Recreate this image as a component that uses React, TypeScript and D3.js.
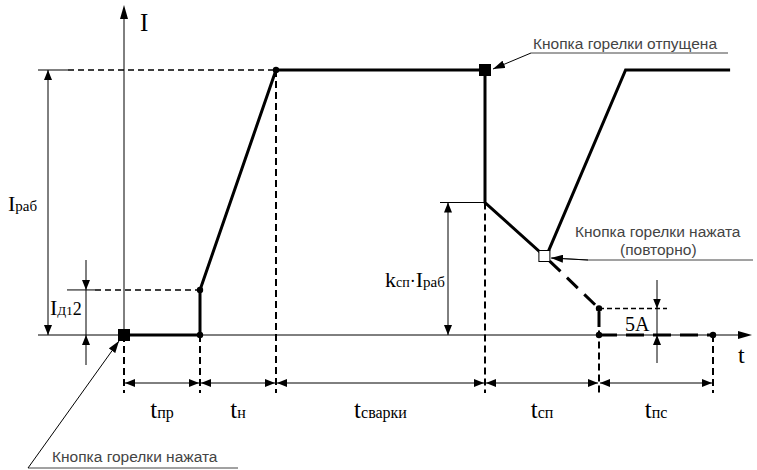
import React from "react";
import * as d3 from "d3";

// time marks (arbitrary units) where the phases change
const phaseBounds = [0, 2, 4, 9.5, 12.5, 15.5];
const phaseSubs = ["пр", "н", "сварки", "сп", "пс"];

// current levels (Iраб = 100)
const iWork = 100;
const iD12 = 17;
const kSpLevel = 50;
const iFive = 10;

// main current curve
const mainT = [0, 2, 2, 4, 9.5, 9.5, 11.05];
const mainI = [0, 0, 17, 100, 100, 50, 30];
// restart after the second press
const restartT = [11.15, 13.2, 15.95];
const restartI = [31, 100, 100];
// continuation if not pressed again
const fallT = [11.05, 12.5, 12.5];
const fallI = [30, 10, 0];
const tailT = [12.5, 15.5];
const tailI = [0, 0];

const W = 757;
const H = 470;

const serif = "'Liberation Serif', 'Times New Roman', serif";
const sans = "'Liberation Sans', Arial, sans-serif";
const gray = "#444";

export default function App() {
  const x = d3.scaleLinear().domain([0, 15.5]).range([124, 713]);
  const y = d3.scaleLinear().domain([0, 100]).range([335, 70]);
  const line = d3.line<[number, number]>().x((d) => x(d[0])).y((d) => y(d[1]));
  const pts = (ts: number[], is: number[]) => ts.map((t, k) => [t, is[k]] as [number, number]);

  const x0 = x(0);
  const y0 = y(0);
  const dimY = 383;

  const dots: [number, number][] = [
    [2, 0], [2, iD12], [4, iWork], [12.5, iFive], [12.5, 0], [15.5, 0],
  ];

  // vertical dashed guides: [t, top level]
  const guides: [number, number][] = [
    [0, 0], [2, 0], [4, iWork], [9.5, kSpLevel], [12.5, iFive], [15.5, 0],
  ];

  return (
    <svg width={W} height={H} style={{ position: "absolute", left: 0, top: 0, background: "#fff" }}>
      <defs>
        <marker id="ah" viewBox="0 0 10 8" refX="10" refY="4" markerWidth="10" markerHeight="8"
          markerUnits="userSpaceOnUse" orient="auto-start-reverse">
          <path d="M0,0 L10,4 L0,8 z" fill="#000" />
        </marker>
        <marker id="ahg" viewBox="0 0 12 8" refX="12" refY="4" markerWidth="12" markerHeight="8"
          markerUnits="userSpaceOnUse" orient="auto">
          <path d="M0,0 L12,4 L0,8 z" fill="#000" />
        </marker>
      </defs>

      {/* axes */}
      <line x1={38} y1={y0} x2={744} y2={y0} stroke="#000" strokeWidth={1} />
      <path d={`M752,${y0} L738,${y0 - 4} L738,${y0 + 4} z`} fill="#000" />
      <line x1={x0} y1={14} x2={x0} y2={y0} stroke="#000" strokeWidth={1} />
      <path d={`M${x0},5 L${x0 - 4},19 L${x0 + 4},19 z`} fill="#000" />
      <text x={140} y={31} fontFamily={serif} fontSize={25}>I</text>
      <text x={738} y={363} fontFamily={serif} fontSize={24}>t</text>

      {/* Iраб reference */}
      <line x1={38} y1={y(iWork)} x2={68} y2={y(iWork)} stroke="#000" strokeWidth={1} />
      <line x1={68} y1={y(iWork)} x2={x(4)} y2={y(iWork)} stroke="#000" strokeWidth={1.6} strokeDasharray="6,4" />
      <line x1={48} y1={y(iWork)} x2={48} y2={y0} stroke="#000" strokeWidth={1}
        markerStart="url(#ah)" markerEnd="url(#ah)" />
      <text x={8} y={211} fontFamily={serif}>
        <tspan fontSize={22}>I</tspan><tspan fontSize={15}>раб</tspan>
      </text>

      {/* Iд12 reference */}
      <line x1={67} y1={y(iD12)} x2={95} y2={y(iD12)} stroke="#000" strokeWidth={1} />
      <line x1={95} y1={y(iD12)} x2={x(2)} y2={y(iD12)} stroke="#000" strokeWidth={1.6} strokeDasharray="6,4" />
      <line x1={86} y1={260} x2={86} y2={y(iD12)} stroke="#000" strokeWidth={1} markerEnd="url(#ah)" />
      <line x1={86} y1={365} x2={86} y2={y0} stroke="#000" strokeWidth={1} markerEnd="url(#ah)" />
      <line x1={86} y1={y(iD12)} x2={86} y2={y0} stroke="#000" strokeWidth={1} />
      <text x={50} y={315} fontFamily={serif}>
        <tspan fontSize={22}>I</tspan><tspan fontSize={13}>Д1</tspan><tspan fontSize={18}>2</tspan>
      </text>

      {/* kсп·Iраб reference */}
      <line x1={440} y1={y(kSpLevel)} x2={x(9.5)} y2={y(kSpLevel)} stroke="#000" strokeWidth={1} />
      <line x1={448} y1={y(kSpLevel)} x2={448} y2={y0} stroke="#000" strokeWidth={1}
        markerStart="url(#ah)" markerEnd="url(#ah)" />
      <text x={385} y={287} fontFamily={serif}>
        <tspan fontSize={22}>k</tspan><tspan fontSize={14}>сп</tspan><tspan fontSize={18}>·</tspan>
        <tspan fontSize={22}>I</tspan><tspan fontSize={15}>раб</tspan>
      </text>

      {/* 5A reference */}
      <line x1={x(12.5)} y1={y(iFive)} x2={667} y2={y(iFive)} stroke="#000" strokeWidth={1.4} strokeDasharray="5,3" />
      <line x1={657} y1={280} x2={657} y2={y(iFive)} stroke="#000" strokeWidth={1} markerEnd="url(#ah)" />
      <line x1={657} y1={363} x2={657} y2={y0} stroke="#000" strokeWidth={1} markerEnd="url(#ah)" />
      <line x1={657} y1={y(iFive)} x2={657} y2={y0} stroke="#000" strokeWidth={1} />
      <text x={625} y={331} fontFamily={serif} fontSize={20}>5A</text>

      {/* vertical dashed guides */}
      {guides.map(([t, lvl], k) => (
        <line key={k} x1={x(t)} y1={y(lvl)} x2={x(t)} y2={393} stroke="#000" strokeWidth={2}
          strokeDasharray="7,4" />
      ))}

      {/* phase dimensions */}
      {phaseSubs.map((s, k) => {
        const a = x(phaseBounds[k]);
        const b = x(phaseBounds[k + 1]);
        return (
          <g key={s}>
            <line x1={a + 1} y1={dimY} x2={b - 1} y2={dimY} stroke="#000" strokeWidth={1}
              markerStart="url(#ah)" markerEnd="url(#ah)" />
            <text x={(a + b) / 2} y={418} textAnchor="middle" fontFamily={serif}>
              <tspan fontSize={25}>t</tspan><tspan fontSize={16}>{s}</tspan>
            </text>
          </g>
        );
      })}

      {/* current curves */}
      <path d={line(pts(mainT, mainI)) ?? ""} fill="none" stroke="#000" strokeWidth={3} strokeLinejoin="miter" />
      <path d={line(pts(restartT, restartI)) ?? ""} fill="none" stroke="#000" strokeWidth={3} />
      <path d={line(pts(fallT, fallI)) ?? ""} fill="none" stroke="#000" strokeWidth={3} strokeDasharray="15,9" strokeDashoffset={-8} />
      <path d={line(pts(tailT, tailI)) ?? ""} fill="none" stroke="#000" strokeWidth={3.2} strokeDasharray="18,9" />

      {dots.map(([t, i], k) => (
        <circle key={k} cx={x(t)} cy={y(i)} r={3.2} fill="#000" />
      ))}

      {/* markers */}
      <rect x={x(0) - 6} y={y0 - 6} width={12} height={12} fill="#000" />
      <rect x={x(9.5) - 6} y={y(iWork) - 6} width={12} height={12} fill="#000" />
      <rect x={x(11.05) - 5} y={y(30) - 5} width={11} height={11} fill="#fff" stroke="#000" strokeWidth={1} />

      {/* annotations */}
      <text x={533} y={49} fontFamily={sans} fontSize={15.5} fill={gray}>Кнопка горелки отпущена</text>
      <line x1={531} y1={53} x2={728} y2={53} stroke={gray} strokeWidth={1} />
      <line x1={531} y1={53} x2={493} y2={69} stroke="#000" strokeWidth={1} markerEnd="url(#ahg)" />

      <text x={575} y={237} fontFamily={sans} fontSize={15.5} fill={gray}>Кнопка горелки нажата</text>
      <text x={620} y={255} fontFamily={sans} fontSize={15.5} fill={gray}>(повторно)</text>
      <polyline points="753,260 588,260 552,258" fill="none" stroke={gray} strokeWidth={1} />
      <line x1={588} y1={260} x2={551} y2={258} stroke="#000" strokeWidth={1} markerEnd="url(#ahg)" />

      <text x={52} y={462} fontFamily={sans} fontSize={15.5} fill={gray}>Кнопка горелки нажата</text>
      <line x1={28} y1={468} x2={238} y2={468} stroke={gray} strokeWidth={1} />
      <line x1={28} y1={468} x2={119} y2={341} stroke="#000" strokeWidth={1} markerEnd="url(#ahg)" />
    </svg>
  );
}
